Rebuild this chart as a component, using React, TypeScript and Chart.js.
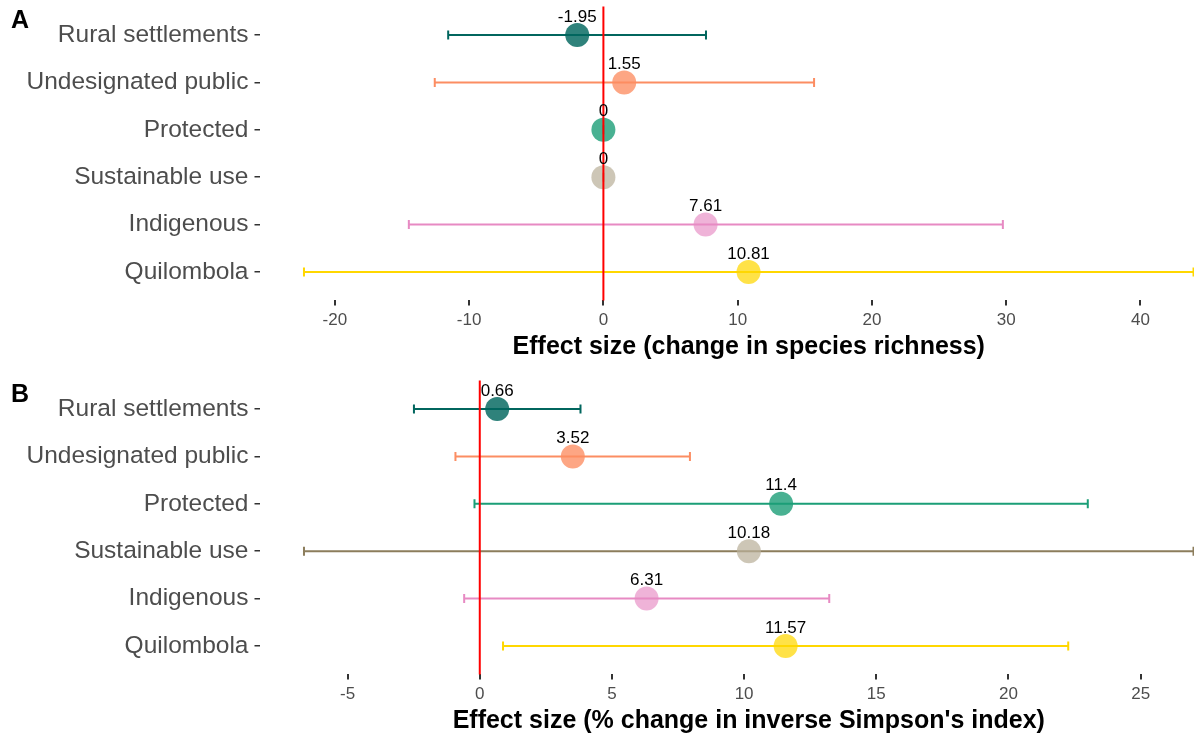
import React, { useEffect, useRef } from "react";
import { Chart, registerables } from "chart.js";

Chart.register(...registerables);

const categories = [
  "Rural settlements",
  "Undesignated public",
  "Protected",
  "Sustainable use",
  "Indigenous",
  "Quilombola",
];

const lineColors = ["#01665E", "#FC8D62", "#1B9E77", "#8C7D5C", "#E78AC3", "#FFD700"];
const pointColors = [
  "rgba(1,102,94,0.82)",
  "rgba(252,141,98,0.78)",
  "rgba(27,158,119,0.8)",
  "rgba(186,176,154,0.72)",
  "rgba(231,138,195,0.65)",
  "rgba(255,215,0,0.72)",
];

// Panel A: change in species richness
const estA = [-1.95, 1.55, 0, 0, 7.61, 10.81];
const lowA = [-11.56, -12.56, 0, 0, -14.49, -22.3];
const highA = [7.64, 15.69, 0, 0, 29.75, 43.95];
const ticksA = [-20, -10, 0, 10, 20, 30, 40];
const titleA = "Effect size (change in species richness)";

// Panel B: % change in inverse Simpson's index
const estB = [0.66, 3.52, 11.4, 10.18, 6.31, 11.57];
const lowB = [-2.49, -0.92, -0.2, -6.65, -0.59, 0.88];
const highB = [3.81, 7.95, 23.0, 27.0, 13.22, 22.26];
const ticksB = [-5, 0, 5, 10, 15, 20, 25];
const titleB = "Effect size (% change in inverse Simpson's index)";

const FONT = "'Liberation Sans', Arial, Helvetica, sans-serif";
const CANVAS_W = 1240;
const CANVAS_H = 362;

function makeConfig(
  letter: string,
  est: number[],
  low: number[],
  high: number[],
  tickVals: number[],
  title: string
): any {
  const lo = Math.min(...low);
  const hi = Math.max(...high);
  const pad = (hi - lo) * 0.05;

  const panelPlugin = {
    id: "panelExtras" + letter,
    beforeDatasetsDraw(chart: any) {
      const { ctx, scales } = chart;
      const xs = scales.x;
      const ys = scales.y;
      ctx.save();
      for (let i = 0; i < est.length; i++) {
        const y = ys.getPixelForValue(i);
        const x1 = xs.getPixelForValue(low[i]);
        const x2 = xs.getPixelForValue(high[i]);
        ctx.strokeStyle = lineColors[i];
        ctx.lineWidth = 2;
        ctx.beginPath();
        ctx.moveTo(x1, y);
        ctx.lineTo(x2, y);
        ctx.moveTo(x1, y - 4.5);
        ctx.lineTo(x1, y + 4.5);
        ctx.moveTo(x2, y - 4.5);
        ctx.lineTo(x2, y + 4.5);
        ctx.stroke();
      }
      ctx.restore();
    },
    afterDatasetsDraw(chart: any) {
      const { ctx, scales, chartArea } = chart;
      const xs = scales.x;
      const ys = scales.y;
      ctx.save();
      // reference line at zero
      const x0 = xs.getPixelForValue(0);
      ctx.strokeStyle = "#FF0000";
      ctx.lineWidth = 2;
      ctx.beginPath();
      ctx.moveTo(x0, chartArea.top);
      ctx.lineTo(x0, chartArea.bottom);
      ctx.stroke();
      // value labels
      ctx.fillStyle = "#000000";
      ctx.font = `17px ${FONT}`;
      ctx.textAlign = "center";
      ctx.textBaseline = "middle";
      for (let i = 0; i < est.length; i++) {
        const x = xs.getPixelForValue(est[i]);
        const y = ys.getPixelForValue(i);
        ctx.fillText(String(est[i]), x, y - 18);
      }
      // panel letter
      ctx.font = `bold 25px ${FONT}`;
      ctx.textAlign = "left";
      ctx.textBaseline = "alphabetic";
      ctx.fillText(letter, 11, 28);
      ctx.restore();
    },
  };

  return {
    type: "scatter",
    data: {
      datasets: [
        {
          data: est.map((v, i) => ({ x: v, y: i })),
          pointRadius: 12,
          pointHoverRadius: 12,
          pointBackgroundColor: pointColors,
          pointBorderWidth: 0,
          pointBorderColor: "rgba(0,0,0,0)",
          clip: false,
        },
      ],
    },
    options: {
      animation: false,
      responsive: false,
      events: [],
      layout: { autoPadding: false, padding: { top: 6.6, left: 0, right: 2, bottom: 0 } },
      plugins: {
        legend: { display: false },
        tooltip: { enabled: false },
      },
      scales: {
        x: {
          type: "linear",
          min: lo - pad,
          max: hi + pad,
          afterBuildTicks: (s: any) => {
            s.ticks = tickVals.map((v) => ({ value: v }));
          },
          afterFit: (s: any) => {
            s.height = 61.6;
            s.paddingLeft = 0;
            s.paddingRight = 0;
            s.paddingTop = 0;
            s.paddingBottom = 0;
          },
          ticks: {
            autoSkip: false,
            maxRotation: 0,
            color: "#4d4d4d",
            font: { family: FONT, size: 17 },
            padding: 5,
            callback: (v: any) => String(v),
          },
          grid: {
            drawOnChartArea: false,
            drawTicks: true,
            tickLength: 5,
            color: "#333333",
            lineWidth: 2,
          },
          border: { display: false },
          title: {
            display: true,
            text: title,
            color: "#000000",
            font: { family: FONT, size: 25, weight: "bold" },
            padding: { top: 0, bottom: 0 },
          },
        },
        y: {
          type: "linear",
          reverse: true,
          min: -0.6,
          max: 5.6,
          afterBuildTicks: (s: any) => {
            s.ticks = categories.map((_, i) => ({ value: i }));
          },
          afterFit: (s: any) => {
            s.width = 259.5;
            s.paddingLeft = 0;
            s.paddingRight = 0;
            s.paddingTop = 0;
            s.paddingBottom = 0;
          },
          ticks: {
            autoSkip: false,
            color: "#4d4d4d",
            font: { family: FONT, size: 24.5 },
            padding: 6,
            callback: (v: any) => categories[v],
          },
          grid: {
            drawOnChartArea: false,
            drawTicks: true,
            tickLength: 5,
            color: "#333333",
            lineWidth: 1.5,
          },
          border: { display: false },
        },
      },
    },
    plugins: [panelPlugin],
  };
}

function Panel(props: { cfg: () => any; top: number }) {
  const ref = useRef<HTMLCanvasElement | null>(null);
  useEffect(() => {
    if (!ref.current) return;
    const chart = new Chart(ref.current, props.cfg());
    return () => chart.destroy();
  }, []);
  return (
    <div style={{ position: "absolute", left: 0, top: props.top, width: CANVAS_W, height: CANVAS_H }}>
      <canvas ref={ref} width={CANVAS_W} height={CANVAS_H} style={{ width: CANVAS_W, height: CANVAS_H, display: "block" }} />
    </div>
  );
}

export default function App() {
  return (
    <div
      style={{
        position: "fixed",
        left: 0,
        top: 0,
        width: 1194,
        height: 736,
        overflow: "hidden",
        background: "#ffffff",
      }}
    >
      <Panel top={0} cfg={() => makeConfig("A", estA, lowA, highA, ticksA, titleA)} />
      <Panel top={374.4} cfg={() => makeConfig("B", estB, lowB, highB, ticksB, titleB)} />
    </div>
  );
}
